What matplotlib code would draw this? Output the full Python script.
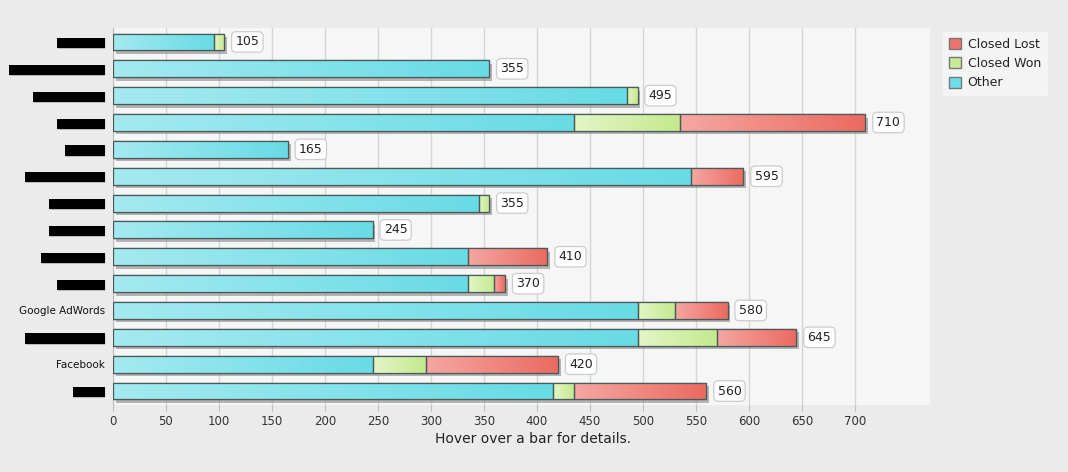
import numpy as np
import matplotlib
matplotlib.use("Agg")
import matplotlib.pyplot as plt
from matplotlib.patches import Patch
from matplotlib.colors import LinearSegmentedColormap
import matplotlib.patheffects as pe

# ---- data ----
categories = ["█" * 6, "█" * 12, "█" * 9, "█" * 6, "█" * 5, "█" * 10, "█" * 7,
              "█" * 7, "█" * 8, "█" * 6, "Google AdWords", "█" * 10, "Facebook", "█" * 4]
other = [95, 355, 485, 435, 165, 545, 345, 245, 335, 335, 495, 495, 245, 415]
won = [10, 0, 10, 100, 0, 0, 10, 0, 0, 25, 35, 75, 50, 20]
lost = [0, 0, 0, 175, 0, 50, 0, 0, 75, 10, 50, 75, 125, 125]
series_names = ["Other", "Closed Won", "Closed Lost"]
xticks = list(range(0, 701, 50))

colors = {
    "Other": ("#a4eaf0", "#68dbe5", "#6fdde6"),
    "Closed Won": ("#e3f6c6", "#c4e98e", "#c8ea96"),
    "Closed Lost": ("#f5a7a2", "#eb6a60", "#ec746b"),
}

fig = plt.figure(figsize=(10.68, 4.72), dpi=100)
fig.patch.set_facecolor("#ebebeb")
ax = fig.add_axes([113 / 1068, 1 - 405 / 472, (930 - 113) / 1068, (405 - 28) / 472])
ax.set_facecolor("#f6f6f6")

y = np.arange(len(categories))
h = 0.63
left = np.zeros(len(categories))
data = {"Other": other, "Closed Won": won, "Closed Lost": lost}
grad = np.linspace(0, 1, 256).reshape(1, -1)
for name in series_names:
    vals = np.array(data[name], dtype=float)
    c0, c1, _ = colors[name]
    cmap = LinearSegmentedColormap.from_list(name, [c0, c1])
    bars = ax.barh(y, vals, left=left, height=h, color=c1, edgecolor="#4a5a5a",
                   linewidth=0.9, zorder=3)
    for b, v in zip(bars, vals):
        if v <= 0:
            b.set_visible(False)
            continue
        b.set_path_effects([pe.SimplePatchShadow(offset=(2, -2.5), shadow_rgbFace="#888888", alpha=0.6),
                            pe.Normal()])
        x0, y0 = b.get_x(), b.get_y()
        im = ax.imshow(grad, extent=[x0, x0 + b.get_width(), y0, y0 + b.get_height()],
                       cmap=cmap, aspect="auto", zorder=3.5, interpolation="bilinear")
        im.set_clip_path(b)
        ax.add_patch(plt.Rectangle((x0, y0), b.get_width(), b.get_height(), fill=False,
                                   edgecolor="#4a5a5a", linewidth=0.9, zorder=4))
    left = left + vals

totals = left
for yi, t in zip(y, totals):
    ax.annotate(f"{int(t)}", xy=(t, yi), xytext=(8, 0), textcoords="offset points",
                va="center", ha="left", fontsize=9, color="#222222", zorder=6,
                bbox=dict(boxstyle="round,pad=0.3,rounding_size=0.35", fc="white", ec="#cccccc", lw=0.9))

ax.set_xlim(0, 771)
ax.set_ylim(len(categories) - 0.48, -0.52)
ax.set_xticks(xticks)
ax.set_xticklabels([str(t) for t in xticks], fontsize=8.5, color="#333333")
ax.set_yticks(y)
ax.set_yticklabels(categories, color="#000000", fontsize=7.5)
for lab in ax.get_yticklabels():
    if "█" in lab.get_text():
        lab.set_bbox(dict(boxstyle="square,pad=0", fc="black", ec="black", lw=0))
    else:
        lab.set_color("#111111")
ax.tick_params(axis="y", length=0, pad=5.5)
ax.tick_params(axis="x", length=4, color="#bbbbbb", pad=3)
ax.grid(axis="x", color="#d6d6d6", linewidth=1, zorder=0)
ax.set_axisbelow(True)
for s in ["top", "right", "bottom"]:
    ax.spines[s].set_visible(False)
ax.spines["left"].set_color("#bbbbbb")
ax.spines["left"].set_linewidth(0.8)

fig.text(533 / 1068, 1 - 439 / 472, "Hover over a bar for details.", ha="center", va="center",
         fontsize=10, color="#222222")

handles = [Patch(facecolor=colors[n][2], edgecolor="#777777", label=n)
           for n in ["Closed Lost", "Closed Won", "Other"]]
leg = fig.legend(handles=handles, loc="upper left", bbox_to_anchor=(937 / 1068, 1 - 26 / 472),
                 fontsize=9, frameon=True, fancybox=False, handlelength=1.0, handleheight=1.0,
                 handletextpad=0.5, labelspacing=0.5, borderpad=0.45)
leg.get_frame().set_facecolor("#f7f7f7")
leg.get_frame().set_edgecolor("#f7f7f7")
for t in leg.get_texts():
    t.set_color("#222222")

fig.savefig("out.png", dpi=100, facecolor=fig.get_facecolor())
